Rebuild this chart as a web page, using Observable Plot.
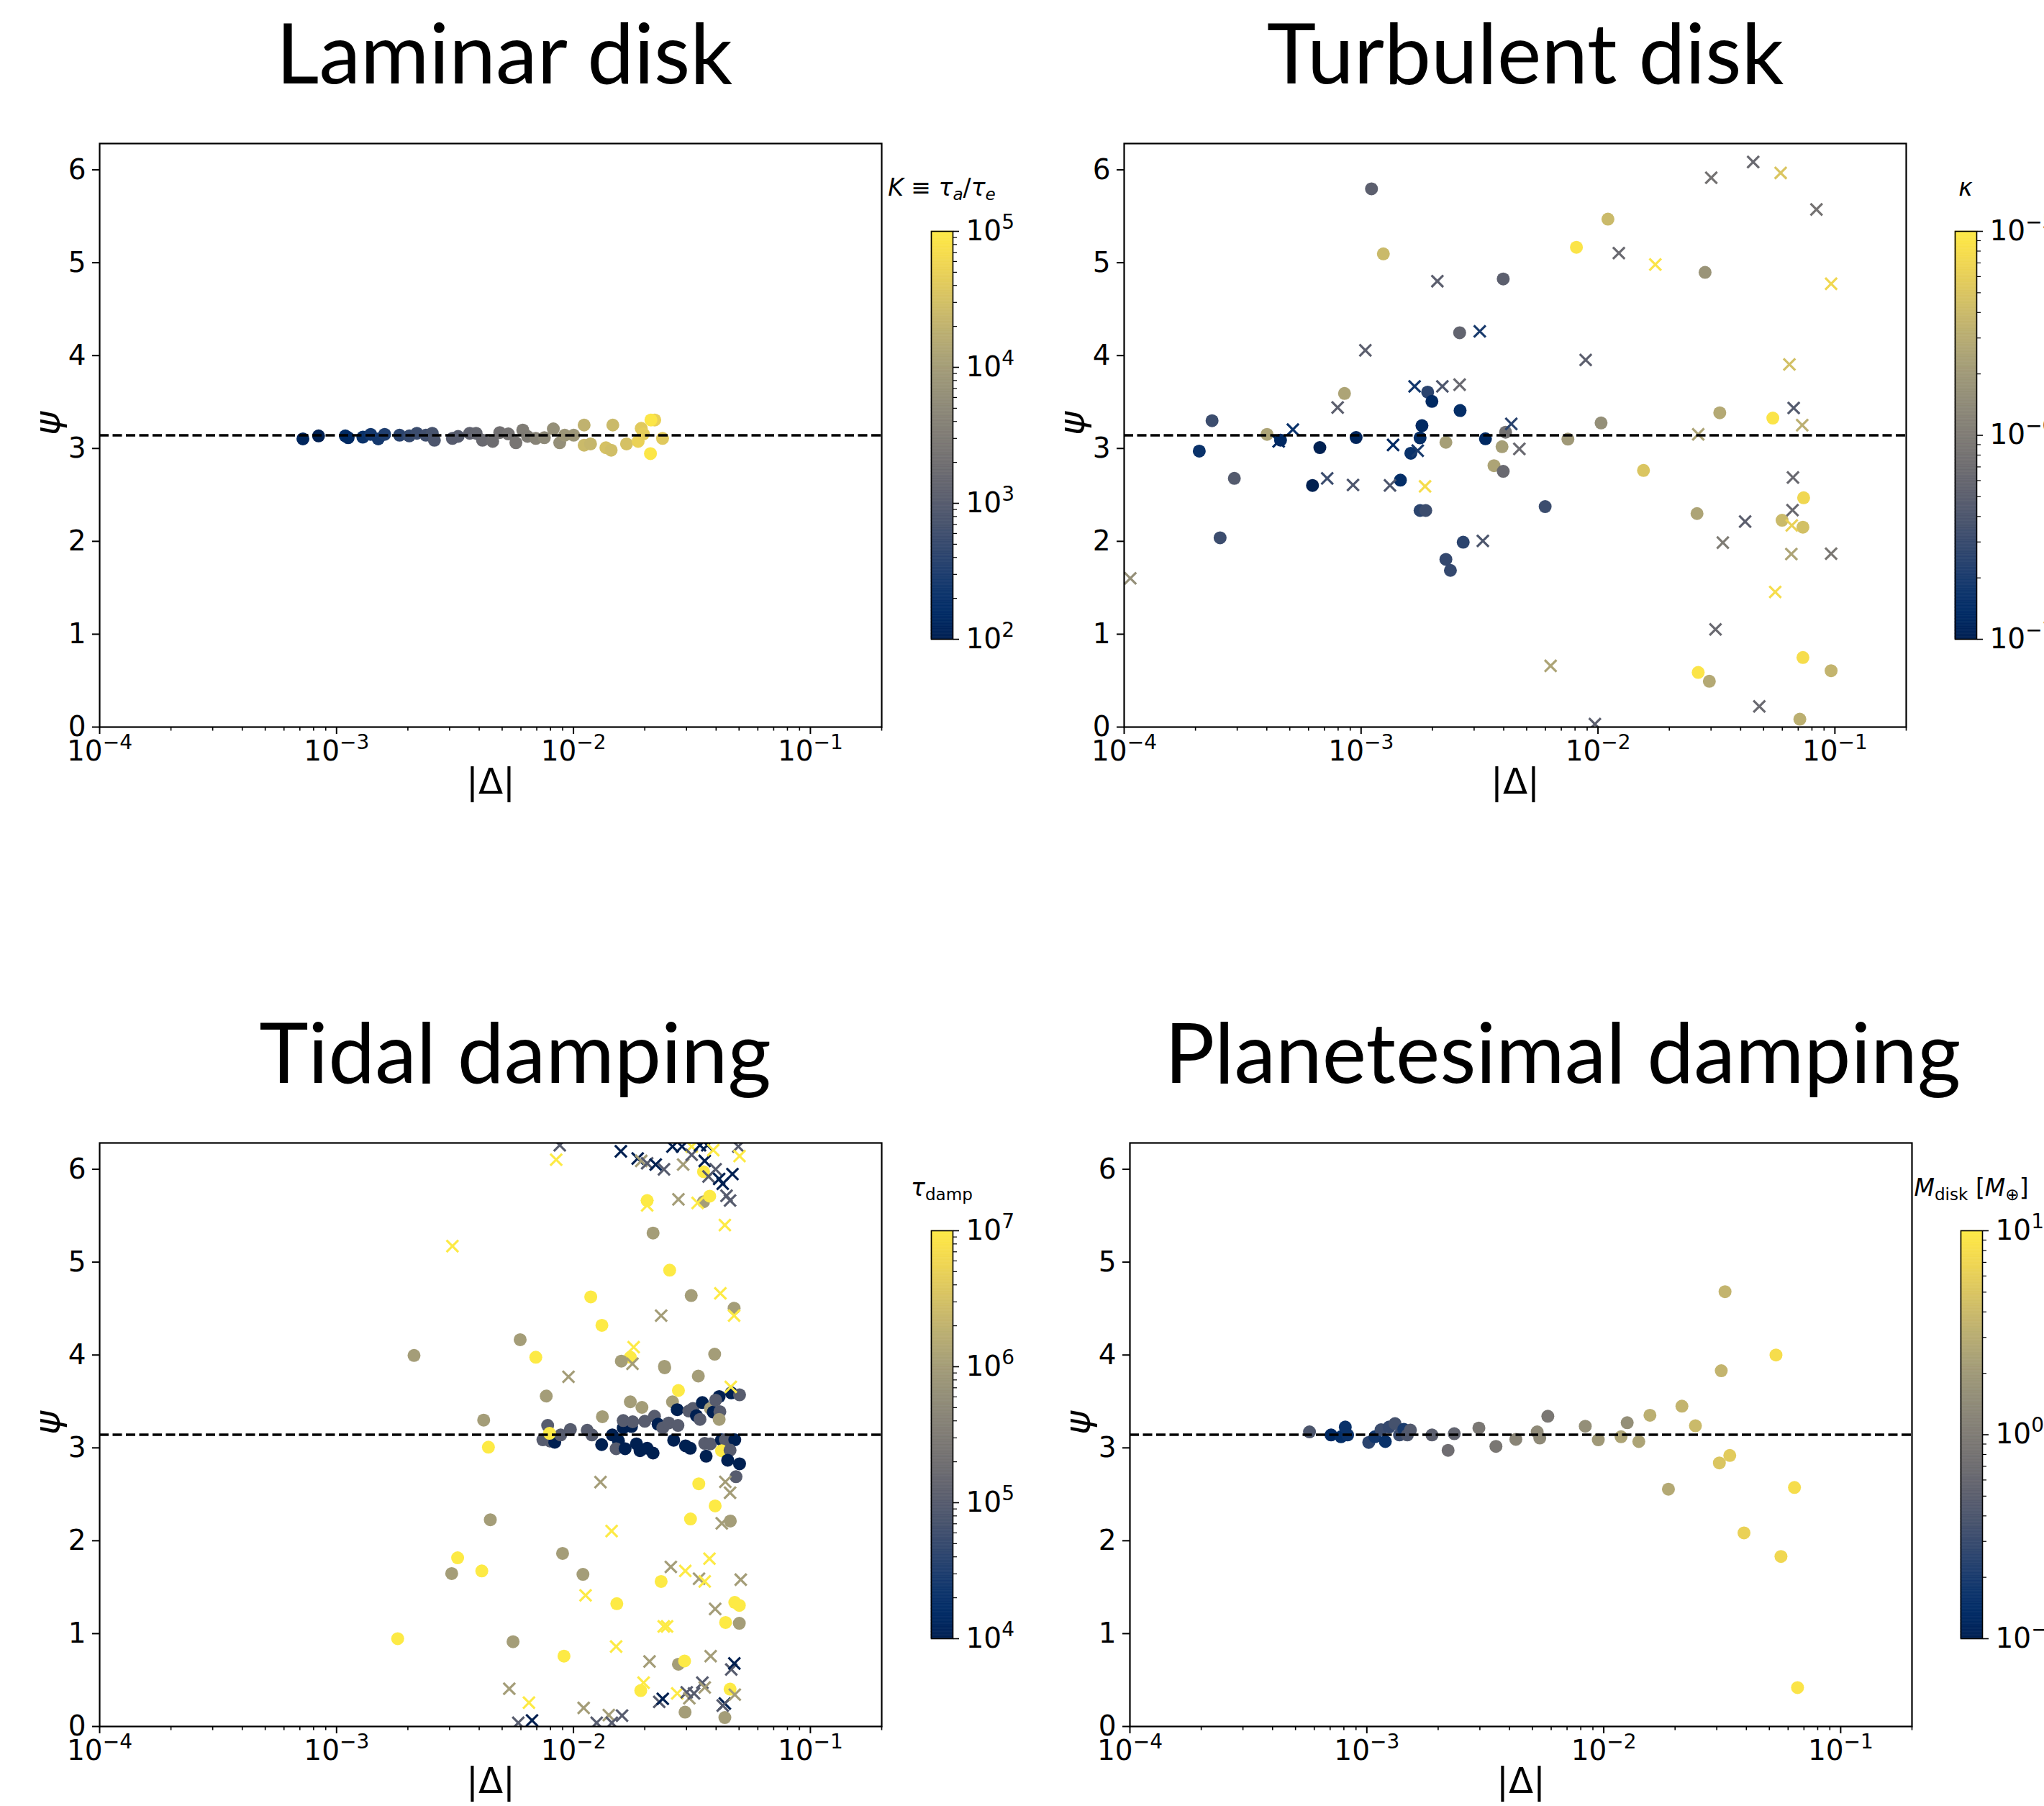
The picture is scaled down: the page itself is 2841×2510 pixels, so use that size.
<!DOCTYPE html>
<html><head><meta charset="utf-8">
<script src="https://cdn.jsdelivr.net/npm/d3@7"></script>
<script src="https://cdn.jsdelivr.net/npm/@observablehq/plot@0.6"></script>
<style>
html,body{margin:0;padding:0;background:#fff;}
body{width:2841px;height:2510px;overflow:hidden;position:relative;}
.title{font-family:Lato;font-size:116px;line-height:1;white-space:nowrap;transform:translateX(-50%);color:#000;}
.cblabel{font-family:"DejaVu Sans";font-size:33px;line-height:1;white-space:nowrap;transform:translateX(-50%);color:#000;}
.cblabel sub{font-size:70%;vertical-align:baseline;position:relative;top:0.28em;line-height:0;}
</style></head><body>
<script>
// ---------- data: [log10 |Δ|, ψ, log10 colour value] ----------
const laminarDots = [
[-3.142,3.103,2.1],[-3.076,3.135,2.0],[-2.963,3.135,2.2],[-2.951,3.116,2.15],[-2.889,3.122,2.3],
[-2.856,3.152,2.4],[-2.824,3.103,2.4],[-2.797,3.152,2.5],[-2.734,3.143,2.6],[-2.693,3.135,2.7],
[-2.661,3.163,2.75],[-2.623,3.143,2.8],[-2.596,3.163,2.85],[-2.587,3.089,2.9],[-2.511,3.108,3.0],
[-2.487,3.130,3.0],[-2.438,3.163,3.1],[-2.411,3.163,3.15],[-2.384,3.089,3.2],[-2.341,3.076,3.25],
[-2.311,3.171,3.3],[-2.275,3.157,3.35],[-2.243,3.062,3.4],[-2.214,3.198,3.5],[-2.194,3.130,3.5],
[-2.159,3.108,3.6],[-2.123,3.116,3.7],[-2.085,3.211,3.8],[-2.058,3.062,3.8],[-2.037,3.143,3.9],
[-1.999,3.143,3.9],[-1.955,3.252,4.3],[-1.955,3.035,4.4],[-1.928,3.049,4.35],[-1.863,3.008,4.5],
[-1.841,2.981,4.45],[-1.834,3.252,4.4],[-1.776,3.049,4.5],[-1.727,3.076,4.7],[-1.714,3.217,4.6],
[-1.705,3.157,4.65],[-1.657,3.307,4.7],[-1.673,3.307,4.95],[-1.675,2.945,4.95],[-1.624,3.108,4.6]
];
const turbulentDots = [
[-3.683,2.972,-6.8],[-3.629,3.299,-6.5],[-3.595,2.038,-6.5],[-3.535,2.678,-6.35],[-3.397,3.152,-5.6],
[-3.340,3.090,-6.9],[-3.205,2.602,-7.0],[-3.174,3.009,-7.0],[-3.070,3.592,-5.6],[-3.021,3.118,-6.95],
[-2.956,5.796,-6.3],[-2.906,5.095,-5.4],[-2.834,2.659,-6.85],[-2.790,2.948,-6.8],[-2.751,3.114,-6.85],
[-2.743,3.246,-6.9],[-2.751,2.332,-6.6],[-2.727,2.332,-6.5],[-2.719,3.607,-6.6],[-2.701,3.507,-6.9],
[-2.642,3.066,-5.65],[-2.642,1.806,-6.55],[-2.623,1.687,-6.55],[-2.584,4.246,-6.25],[-2.582,3.408,-6.85],
[-2.569,1.991,-6.6],[-2.475,3.104,-6.9],[-2.405,3.019,-5.65],[-2.439,2.815,-5.6],[-2.400,4.825,-6.3],
[-2.400,2.754,-6.2],[-2.390,3.175,-6.1],[-2.223,2.374,-6.5],[-2.127,3.100,-5.7],[-2.091,5.166,-5.05],
[-1.987,3.275,-5.8],[-1.958,5.469,-5.4],[-1.808,2.763,-5.3],[-1.582,2.299,-5.6],[-1.577,0.588,-5.05],
[-1.548,4.896,-5.75],[-1.530,0.493,-5.55],[-1.486,3.384,-5.55],[-1.262,3.327,-5.05],[-1.223,2.227,-5.4],
[-1.148,0.085,-5.5],[-1.132,2.469,-5.15],[-1.135,2.152,-5.35],[-1.135,0.749,-5.1],[-1.016,0.607,-5.45]
];
const turbulentCrosses = [
[-3.974,1.602,-5.8],[-3.348,3.076,-6.9],[-3.288,3.204,-6.8],[-3.143,2.678,-6.5],[-3.099,3.441,-6.3],
[-3.034,2.607,-6.4],[-2.982,4.057,-6.3],[-2.878,2.602,-6.4],[-2.865,3.038,-6.9],[-2.774,3.668,-6.75],
[-2.761,2.976,-6.7],[-2.730,2.592,-5.1],[-2.678,4.801,-6.3],[-2.657,3.668,-6.4],[-2.584,3.687,-6.2],
[-2.499,4.261,-6.7],[-2.486,2.005,-6.4],[-2.366,3.265,-6.6],[-2.332,2.995,-6.2],[-2.200,0.659,-5.6],
[-2.052,3.953,-6.3],[-2.013,0.033,-6.3],[-1.912,5.104,-6.2],[-1.758,4.981,-5.05],[-1.577,3.152,-5.6],
[-1.522,5.915,-6.1],[-1.504,1.052,-6.2],[-1.473,1.986,-6.0],[-1.379,2.213,-6.3],[-1.345,6.085,-6.2],
[-1.319,0.223,-6.2],[-1.229,5.967,-5.3],[-1.252,1.455,-5.1],[-1.192,3.905,-5.35],[-1.182,2.171,-5.2],
[-1.184,1.863,-5.6],[-1.179,2.336,-6.2],[-1.177,2.687,-6.2],[-1.174,3.436,-6.35],[-1.138,3.251,-5.5],
[-1.078,5.573,-6.1],[-1.016,4.773,-5.15],[-1.016,1.867,-6.05]
];
const tidalDots = [
[-2.742,0.946,7],[-2.673,3.995,6],[-2.514,1.647,6],[-2.489,1.816,7],[-2.387,1.675,7],[-2.379,3.299,6],
[-2.359,3.007,7],[-2.351,2.226,6],[-2.255,0.913,6],[-2.225,4.165,6],[-2.159,3.976,7],[-2.115,3.558,6],
[-2.046,1.864,6],[-2.040,0.758,7],[-1.927,4.626,7],[-1.960,1.638,6],[-1.880,4.320,7],[-1.878,3.336,6],
[-1.760,3.496,6],[-1.711,3.436,6],[-1.615,3.863,6],[-1.473,3.773,6],[-1.557,3.618,7],[-1.582,3.496,6],
[-2.109,3.242,5],[-2.129,3.087,5],[-2.099,3.074,5],[-2.079,3.061,4],[-2.054,3.139,5],[-2.013,3.198,5],
[-1.942,3.190,5],[-1.922,3.139,5],[-2.101,3.157,7],
[-1.881,3.035,4],[-1.836,3.139,4],[-1.810,3.074,4],[-1.820,2.991,5],[-1.782,2.991,4],[-1.790,3.216,4],
[-1.755,3.230,4],[-1.790,3.294,5],[-1.750,3.281,5],[-1.699,3.286,5],[-1.734,3.043,4],[-1.719,2.970,4],
[-1.689,2.996,4],[-1.664,2.944,4],[-1.658,3.341,5],[-1.643,3.255,4],[-1.623,3.216,5],[-1.598,3.268,5],
[-1.559,3.242,5],[-1.577,3.082,4],[-1.527,3.022,4],[-1.507,2.996,4],[-1.562,3.411,4],[-1.513,3.397,5],
[-1.496,3.424,5],[-1.481,3.346,4],[-1.466,3.307,5],[-1.456,3.488,4],[-1.446,3.048,5],[-1.422,3.043,5],
[-1.440,2.911,4],[-1.422,3.424,6],[-1.410,3.385,4],[-1.382,3.390,5],[-1.385,3.307,6],[-1.385,3.553,4],
[-1.400,3.514,5],[-1.334,3.592,4],[-1.299,3.571,5],[-1.375,3.087,4],[-1.359,3.087,5],[-1.319,3.087,4],
[-1.375,2.970,7],[-1.339,2.975,5],[-1.349,2.867,4],[-1.299,2.828,4],[-1.314,2.690,5],[-1.471,2.613,7],
[-1.402,2.375,7],
[-1.451,5.974,7],[-1.689,5.663,7],[-1.451,5.650,6],[-1.425,5.710,7],[-1.664,5.313,6],[-1.594,4.913,7],
[-1.503,4.640,6],[-1.322,4.504,6],[-1.760,3.976,7],[-1.798,3.934,6],[-1.616,3.878,6],[-1.404,4.009,6],
[-1.506,2.235,7],[-1.338,2.212,6],[-1.630,1.562,7],[-1.817,1.322,7],[-1.319,1.336,7],[-1.300,1.304,7],
[-1.358,1.120,7],[-1.300,1.111,6],
[-1.716,0.387,7],[-1.557,0.671,6],[-1.531,0.705,7],[-1.529,0.154,6],[-1.339,0.402,7],[-1.361,0.096,6]
];
const tidalCrosses = [
[-2.058,6.259,5],[-2.073,6.103,7],[-1.800,6.193,4],[-1.729,6.116,4],[-1.714,6.090,6],[-1.689,6.064,5],
[-1.653,6.051,4],[-1.618,5.999,5],[-1.582,6.245,4],[-1.542,6.245,4],[-1.501,6.245,7],[-1.537,6.051,6],
[-1.501,6.155,5],[-1.466,6.259,4],[-1.435,6.259,4],[-1.446,6.090,4],[-1.410,6.207,7],[-1.400,5.999,5],
[-1.430,5.922,5],[-1.385,5.896,4],[-1.370,5.844,4],[-1.329,5.948,4],[-1.304,6.245,5],[-1.299,6.142,7],
[-1.354,5.715,5],[-1.339,5.663,5],[-1.689,5.611,7],[-1.557,5.676,6],[-1.476,5.637,7],[-1.361,5.399,7],
[-2.511,5.172,7],[-1.630,4.424,6],[-1.380,4.664,7],[-1.322,4.424,7],[-1.746,4.085,7],[-1.751,3.906,6],
[-2.021,3.765,6],[-1.336,3.657,7],[-1.886,2.631,6],[-1.359,2.634,6],[-1.339,2.517,6],[-1.839,2.104,7],
[-1.374,2.188,6],[-1.589,1.718,6],[-1.528,1.675,7],[-1.470,1.591,6],[-1.426,1.807,7],[-1.446,1.562,7],
[-1.294,1.581,6],[-1.949,1.412,7],[-1.402,1.266,6],[-1.619,1.078,7],[-1.605,1.078,7],
[-2.271,0.407,6],[-2.233,0.040,5],[-2.175,0.066,4],[-2.188,0.257,7],[-1.957,0.200,6],[-1.902,0.040,5],
[-1.851,0.123,6],[-1.838,0.040,5],[-1.795,0.117,5],[-1.820,0.861,7],[-1.679,0.700,6],[-1.704,0.472,7],
[-1.638,0.265,5],[-1.623,0.298,4],[-1.562,0.356,7],[-1.522,0.368,5],[-1.511,0.304,6],[-1.491,0.356,5],
[-1.456,0.472,5],[-1.446,0.420,6],[-1.421,0.757,6],[-1.334,0.614,5],[-1.321,0.679,4],[-1.361,0.247,4],
[-1.370,0.226,5],[-1.319,0.343,6]
];
const planetesimalDots = [
[-3.242,3.172,-0.4],[-3.151,3.139,-0.9],[-3.109,3.120,-0.85],[-3.091,3.224,-0.8],[-3.081,3.139,-0.8],
[-2.992,3.059,-0.6],[-2.966,3.120,-0.75],[-2.940,3.195,-0.5],[-2.922,3.068,-0.8],[-2.906,3.224,-0.55],
[-2.881,3.261,-0.45],[-2.862,3.139,-0.5],[-2.844,3.200,-0.7],[-2.829,3.139,-0.4],[-2.816,3.191,-0.35],
[-2.725,3.139,-0.3],[-2.657,2.974,-0.15],[-2.631,3.153,-0.25],[-2.527,3.214,-0.05],[-2.455,3.016,-0.05],
[-2.371,3.092,0.1],[-2.281,3.172,0.15],[-2.270,3.106,0.15],[-2.236,3.341,-0.05],[-2.078,3.233,0.2],
[-2.023,3.087,0.3],[-1.927,3.120,0.4],[-1.901,3.271,0.2],[-1.852,3.068,0.4],[-1.805,3.351,0.5],
[-1.727,2.555,0.45],[-1.670,3.449,0.55],[-1.613,3.238,0.6],[-1.512,2.838,0.7],[-1.504,3.831,0.55],
[-1.488,4.682,0.55],[-1.468,2.918,0.75],[-1.408,2.085,0.8],[-1.273,4.000,0.9],[-1.252,1.831,0.85],
[-1.195,2.574,0.9],[-1.182,0.419,0.95]
];
const xTickValues = [1e-4, 1e-3, 1e-2, 1e-1];
const yTickValues = [0, 1, 2, 3, 4, 5, 6];
const titles = ["Laminar disk", "Turbulent disk", "Tidal damping", "Planetesimal damping"];
const colorDomains = [[1e2, 1e5], [1e-7, 1e-5], [1e4, 1e7], [1e-1, 1e1]];
const colorTicks = [[1e2, 1e3, 1e4, 1e5], [1e-7, 1e-6, 1e-5], [1e4, 1e5, 1e6, 1e7], [1e-1, 1e0, 1e1]];
const colorLabels = [
  '<i>K</i> ≡ <i>τ</i><sub><i>a</i></sub>/<i>τ</i><sub><i>e</i></sub>',
  '<i>κ</i>',
  '<i>τ</i><sub>damp</sub>',
  '<i>M</i><sub>disk</sub> [<i>M</i><sub>⊕</sub>]'
];

// ---------- layout (pixels) ----------
const layout = [
  {fx: 138,  fy: 199,  cx: 1294, cy: 321,  tx: 701,  tb: 117,  lb: 272},
  {fx: 1562, fy: 199,  cx: 2717, cy: 321,  tx: 2120, tb: 117,  lb: 272},
  {fx: 138,  fy: 1588, cx: 1294, cy: 1710, tx: 716,  tb: 1506, lb: 1662},
  {fx: 1570, fy: 1588, cx: 2725, cy: 1710, tx: 2172, tb: 1506, lb: 1662}
];
const panelData = [
  {dots: laminarDots, crosses: []},
  {dots: turbulentDots, crosses: turbulentCrosses},
  {dots: tidalDots, crosses: tidalCrosses},
  {dots: planetesimalDots, crosses: []}
];

const FW = 1087, FH = 811, CBW = 30, CBH = 567;

function powLabel(v) { return "10^" + Math.round(Math.log10(v)); }
function minorTicks(lo, hi) {
  const out = [];
  for (let e = Math.floor(Math.log10(lo)) - 1; e <= Math.ceil(Math.log10(hi)); e++)
    for (let m = 2; m <= 9; m++) { const v = m * 10 ** e; if (v >= lo * 0.9999 && v <= hi * 1.0001) out.push(v); }
  return out;
}
function supify(svg) {
  svg.querySelectorAll("text").forEach(t => {
    const m = /^10\^(-?\d+)$/.exec(t.textContent);
    if (!m) return;
    while (t.firstChild) t.removeChild(t.firstChild);
    const ns = "http://www.w3.org/2000/svg";
    const a = document.createElementNS(ns, "tspan"); a.textContent = "10";
    const b = document.createElementNS(ns, "tspan");
    b.textContent = m[1].replace("-", "\u2212");
    b.setAttribute("font-size", "28");
    b.setAttribute("dy", "-16");
    t.appendChild(a); t.appendChild(b);
  });
}
function place(el, left, top) {
  el.style.position = "absolute"; el.style.left = left + "px"; el.style.top = top + "px";
  document.body.appendChild(el);
}

panelData.forEach((pd, i) => {
  const L = layout[i];
  const [lo, hi] = colorDomains[i];
  const row = d => ({delta: 10 ** d[0], psi: d[1], c: 10 ** d[2]});
  const dots = pd.dots.map(row), crosses = pd.crosses.map(row);
  const mL = 110, mR = 20, mT = 20, mB = 130;
  const svg = Plot.plot({
    width: FW + mL + mR, height: FH + mT + mB,
    marginLeft: mL, marginRight: mR, marginTop: mT, marginBottom: mB,
    x: {type: "log", domain: [1e-4, 0.2], axis: null},
    y: {domain: [0, 2 * Math.PI], axis: null},
    color: {type: "log", domain: [lo, hi], scheme: "cividis"},
    style: {fontFamily: "DejaVu Sans", fontSize: "39px", color: "black", background: "transparent", overflow: "visible"},
    marks: [
      Plot.dot(dots, {x: "delta", y: "psi", fill: "c", r: 9, clip: true}),
      Plot.dot(crosses, {x: "delta", y: "psi", stroke: "c", symbol: "times", r: 7.5, strokeWidth: 3.2, clip: true}),
      Plot.ruleY([Math.PI], {stroke: "black", strokeWidth: 3.6, strokeDasharray: "13,5.5"}),
      Plot.frame({stroke: "black", strokeWidth: 2.2}),
      Plot.axisX({ticks: xTickValues, tickFormat: powLabel, tickSize: 10, tickPadding: 9, strokeWidth: 2, label: null, fontSize: 39}),
      Plot.axisX({ticks: minorTicks(1e-4, 0.2), tickSize: 5.5, strokeWidth: 1.6, fill: "none", label: null}),
      Plot.axisY({ticks: yTickValues, tickFormat: d => String(d), tickSize: 10, tickPadding: 9, strokeWidth: 2, label: null, fontSize: 39}),
      Plot.text(["|Δ|"], {frameAnchor: "bottom", dy: 92, fontSize: 50}),
      Plot.text(["ψ"], {frameAnchor: "left", dx: -72, rotate: -90, fontSize: 50, fontStyle: "italic"})
    ]
  });
  supify(svg);
  place(svg, L.fx - mL, L.fy - mT);

  // colour bar
  const N = 300;
  const stops = d3.range(N).map(k => {
    const y1 = lo * (hi / lo) ** (k / N), y2 = lo * (hi / lo) ** ((k + 1) / N);
    return {y1, y2, c: Math.sqrt(y1 * y2)};
  });
  const cL = 2, cR = 130, cT = 10, cB = 10;
  const cb = Plot.plot({
    width: CBW + cL + cR, height: CBH + cT + cB,
    marginLeft: cL, marginRight: cR, marginTop: cT, marginBottom: cB,
    y: {type: "log", domain: [lo, hi], axis: null},
    color: {type: "log", domain: [lo, hi], scheme: "cividis"},
    style: {fontFamily: "DejaVu Sans", fontSize: "39px", color: "black", background: "transparent", overflow: "visible"},
    marks: [
      Plot.rect(stops, {y1: "y1", y2: "y2", fill: "c", stroke: "c", strokeWidth: 0.6}),
      Plot.frame({stroke: "black", strokeWidth: 1.6}),
      Plot.axisY({anchor: "right", ticks: colorTicks[i], tickFormat: powLabel, tickSize: 8, tickPadding: 10, strokeWidth: 1.6, label: null, fontSize: 39}),
      Plot.axisY({anchor: "right", ticks: minorTicks(lo, hi), tickSize: 5, strokeWidth: 1.2, fill: "none", label: null})
    ]
  });
  supify(cb);
  place(cb, L.cx - cL, L.cy - cT);

  // titles and colour-bar labels
  const t = document.createElement("div");
  t.className = "title"; t.textContent = titles[i];
  place(t, L.tx, L.tb - 103);
  const lab = document.createElement("div");
  lab.className = "cblabel"; lab.innerHTML = colorLabels[i];
  place(lab, L.cx + CBW / 2, L.lb - 28);
});
</script>
</body></html>
